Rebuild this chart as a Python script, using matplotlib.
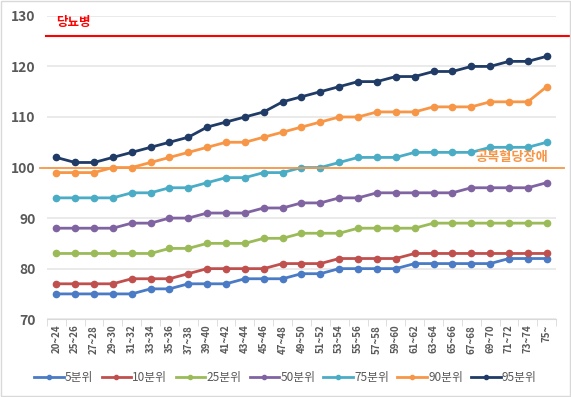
import numpy as np
import matplotlib.pyplot as plt
from matplotlib.lines import Line2D

plt.rcParams['font.family'] = ['Noto Sans CJK KR', 'DejaVu Sans']

ages = ['20~24', '25~26', '27~28', '29~30', '31~32', '33~34', '35~36', '37~38', '39~40',
        '41~42', '43~44', '45~46', '47~48', '49~50', '51~52', '53~54', '55~56', '57~58',
        '59~60', '61~62', '63~64', '65~66', '67~68', '69~70', '71~72', '73~74', '75~']

p5 = [75, 75, 75, 75, 75, 76, 76, 77, 77, 77, 78, 78, 78, 79, 79, 80, 80, 80, 80, 81, 81, 81, 81, 81, 82, 82, 82]
p10 = [77, 77, 77, 77, 78, 78, 78, 79, 80, 80, 80, 80, 81, 81, 81, 82, 82, 82, 82, 83, 83, 83, 83, 83, 83, 83, 83]
p25 = [83, 83, 83, 83, 83, 83, 84, 84, 85, 85, 85, 86, 86, 87, 87, 87, 88, 88, 88, 88, 89, 89, 89, 89, 89, 89, 89]
p50 = [88, 88, 88, 88, 89, 89, 90, 90, 91, 91, 91, 92, 92, 93, 93, 94, 94, 95, 95, 95, 95, 95, 96, 96, 96, 96, 97]
p75 = [94, 94, 94, 94, 95, 95, 96, 96, 97, 98, 98, 99, 99, 100, 100, 101, 102, 102, 102, 103, 103, 103, 103, 104, 104, 104, 105]
p90 = [99, 99, 99, 100, 100, 101, 102, 103, 104, 105, 105, 106, 107, 108, 109, 110, 110, 111, 111, 111, 112, 112, 112, 113, 113, 113, 116]
p95 = [102, 101, 101, 102, 103, 104, 105, 106, 108, 109, 110, 111, 113, 114, 115, 116, 117, 117, 118, 118, 119, 119, 120, 120, 121, 121, 122]

series = [('5분위', p5, '#4A7BC4'), ('10분위', p10, '#C0504D'), ('25분위', p25, '#9BBB59'),
          ('50분위', p50, '#8064A2'), ('75분위', p75, '#4BACC6'), ('90분위', p90, '#F79646'),
          ('95분위', p95, '#1F3B66')]

diabetes = 126
ifg = 100

fig = plt.figure(figsize=(5.71, 3.97), dpi=100)
ax = fig.add_axes([0.082, 0.196, 0.892, 0.764])

x = np.arange(len(ages))
handles = []
for name, vals, col in series:
    ax.plot(x, vals, color=col, lw=2.0, marker='o', ms=4.5)
    handles.append(Line2D([], [], color=col, lw=2.0, marker='o', ms=3, label=name))

# reference lines, running a bit past the plot area
ax.plot([-0.002, 1.027], [diabetes, diabetes], color='#FF0000', lw=1.5,
        transform=ax.get_yaxis_transform(), clip_on=False)
ax.plot([-0.014, 1.016], [ifg, ifg], color='#F79646', lw=1.3,
        transform=ax.get_yaxis_transform(), clip_on=False)
ax.text(0.0, 128.6, '당뇨병', color='#FF0000', fontsize=9, fontweight='bold', va='center')
ax.text(26.1, 102.0, '공복혈당장애', color='#F79646', fontsize=9.5, fontweight='bold',
        ha='right', va='center')

ax.set_xlim(-0.5, 26.5)
ax.set_ylim(70, 130)
ax.set_yticks(range(70, 131, 10))
ax.grid(axis='y', color='#E6E6E6', lw=1.2)
ax.set_axisbelow(True)
for s in ['top', 'right', 'left']:
    ax.spines[s].set_visible(False)
ax.spines['bottom'].set_color('#D9D9D9')
ax.tick_params(axis='y', length=0, labelsize=10, labelcolor='#595959', pad=8)
for t in ax.get_yticklabels():
    t.set_fontweight('bold')
ax.set_xticks(x)
ax.set_xticklabels(ages, rotation=90, fontsize=7, color='#595959', fontweight='bold')
ax.tick_params(axis='x', length=0, pad=4)
ax.set_xticks(np.arange(-0.5, 27, 1), minor=True)
ax.tick_params(axis='x', which='minor', length=5, color='#D9D9D9')

fig.legend(handles=handles, loc='center', bbox_to_anchor=(0.5, 0.048), ncol=7, frameon=False,
           fontsize=8.5, handlelength=2.5, columnspacing=0.7, handletextpad=0.1,
           labelcolor='#595959')

fig.patches.append(plt.Rectangle((0.002, 0.002), 0.996, 0.996, transform=fig.transFigure,
                                 fill=False, edgecolor='#D9D9D9', lw=1))

plt.savefig('out.png', dpi=100)
